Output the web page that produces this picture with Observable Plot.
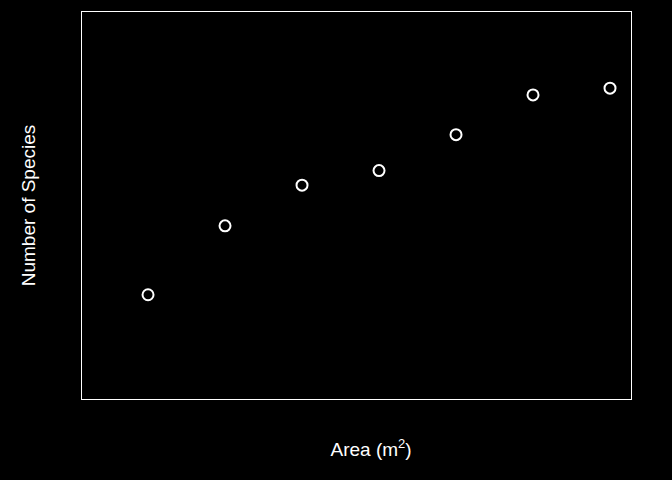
<!DOCTYPE html>
<html>
<head>
<meta charset="utf-8">
<script src="https://cdn.jsdelivr.net/npm/d3@7"></script>
<script src="https://cdn.jsdelivr.net/npm/@observablehq/plot@0.6"></script>
<style>
  html, body { margin: 0; padding: 0; background: #000; }
</style>
</head>
<body>
<div id="chart"></div>
<script>
const areaIndex = [1, 2, 3, 4, 5, 6, 7];
const species = [10.8, 17.9, 22.1, 23.6, 27.3, 31.4, 32.1];
const xLabel = "Area (m2)";
const yLabel = "Number of Species";

const data = areaIndex.map((a, i) => ({area: a, species: species[i]}));

const chart = Plot.plot({
  width: 672,
  height: 480,
  marginLeft: 81,
  marginRight: 41,
  marginTop: 11,
  marginBottom: 81,
  style: {background: "#000", color: "#fff", fontFamily: "Liberation Sans, Arial, sans-serif"},
  x: {domain: [0.136, 7.279], axis: null},
  y: {domain: [0, 40], axis: null},
  marks: [
    Plot.frame({stroke: "#fff", strokeWidth: 1}),
    Plot.dot(data, {x: "area", y: "species", r: 5.5, stroke: "#fff", strokeWidth: 2, fill: "none"}),
    Plot.text([yLabel], {text: d => d, frameAnchor: "left", rotate: -90, dx: -47, textAnchor: "middle", lineAnchor: "bottom", fill: "#fff", fontSize: 19}),
    Plot.text([xLabel], {text: d => d, frameAnchor: "bottom", dx: -26, dy: 56, textAnchor: "start", lineAnchor: "bottom", fill: "#fff", fontSize: 19, className: "xlab"})
  ]
});
document.getElementById("chart").appendChild(chart);

// Render the "2" in the x label as a superscript
const t = chart.querySelector(".xlab text");
if (t) {
  t.textContent = "";
  const ns = "http://www.w3.org/2000/svg";
  const a = document.createElementNS(ns, "tspan"); a.textContent = "Area (m";
  const b = document.createElementNS(ns, "tspan"); b.textContent = "2";
  b.setAttribute("font-size", "13"); b.setAttribute("dy", "-8");
  const c = document.createElementNS(ns, "tspan"); c.textContent = ")";
  c.setAttribute("dy", "8");
  t.append(a, b, c);
}
</script>
</body>
</html>
